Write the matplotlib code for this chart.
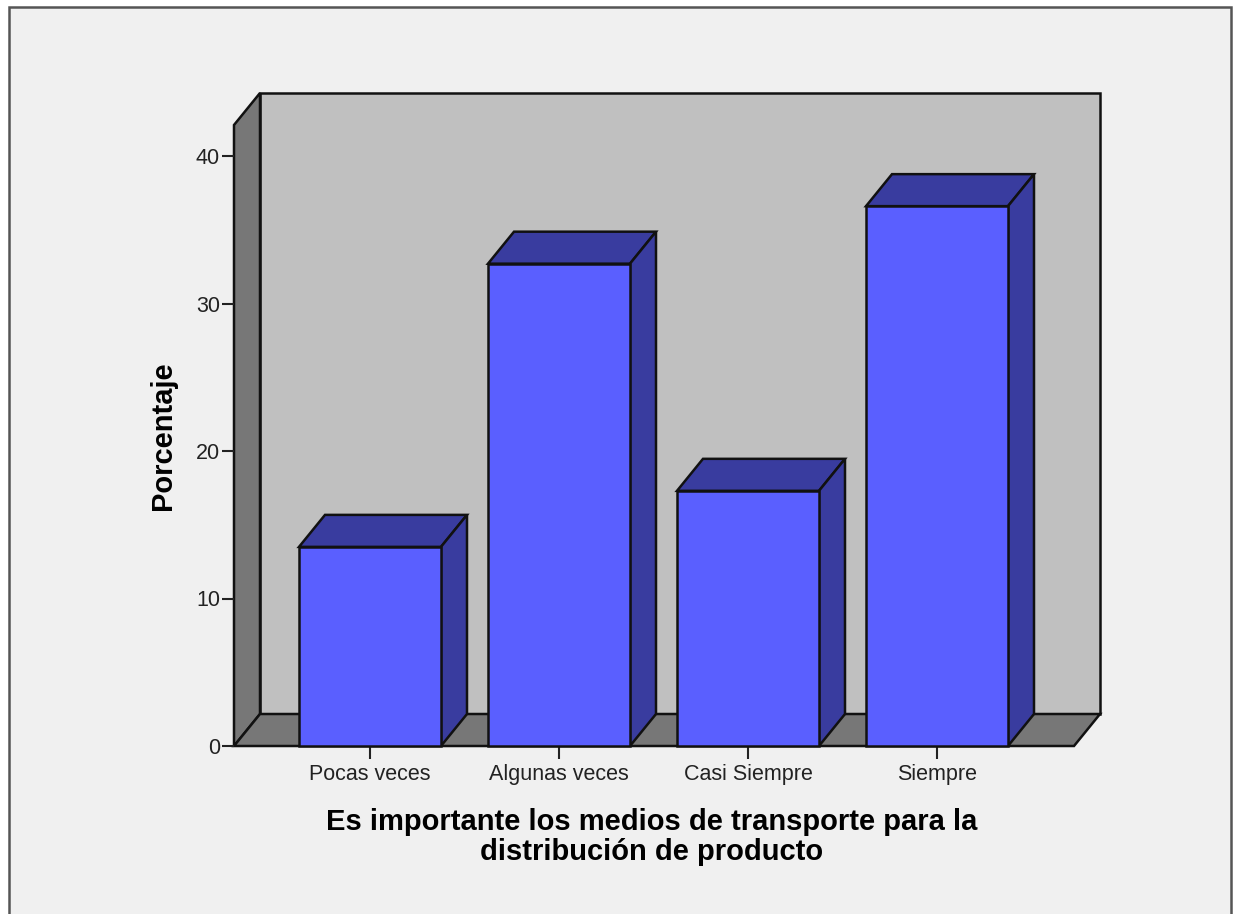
import matplotlib
matplotlib.use("Agg")
import matplotlib.pyplot as plt
from matplotlib.patches import Polygon, Rectangle

categories = ["Pocas veces", "Algunas veces", "Casi Siempre", "Siempre"]
values = [13.5, 32.7, 17.3, 36.6]
yticks = [0, 10, 20, 30, 40]
xlabel = "Es importante los medios de transporte para la\ndistribución de producto"
ylabel = "Porcentaje"

W, H = 1235, 914
px_x = 189.0    # pixels per category
px_y = 14.75    # pixels per percent
depth_x = 26 / px_x
depth_y = 32 / px_y
bar_w = 142 / px_x
xlim = ((234 - 370) / px_x, (1074 - 370) / px_x)
ylim = (0, (746 - 125) / px_y)

face = "#5a5fff"
shade = "#393c9f"
wall = "#c0c0c0"
side = "#777777"

fig = plt.figure(figsize=(W / 100, H / 100), dpi=100, facecolor="white")
plt.rcParams["font.family"] = ["Liberation Sans", "DejaVu Sans"]

# outer frame, open at the bottom edge of the image
fig.add_artist(Rectangle((8.5 / W, -0.01), (1231 - 9) / W, (907.5 + 9) / H, transform=fig.transFigure,
                         fc="#f0f0f0", ec="#555555", lw=1.8, zorder=-1))

ax = fig.add_axes([234 / W, (H - 746) / H, (1074 - 234) / W, (746 - 125) / H])
ax.set_xlim(xlim)
ax.set_ylim(ylim)
ax.patch.set_visible(False)
for s in ax.spines.values():
    s.set_visible(False)


def poly(pts, color, z=2):
    ax.add_patch(Polygon(pts, closed=True, fc=color, ec="#111111", lw=1.8, zorder=z, clip_on=False))


x0, x1 = xlim
top = ylim[1]
# back wall, left wall, floor
poly([(x0 + depth_x, depth_y), (x1 + depth_x, depth_y), (x1 + depth_x, top + depth_y), (x0 + depth_x, top + depth_y)], wall, 1)
poly([(x0, 0), (x0 + depth_x, depth_y), (x0 + depth_x, top + depth_y), (x0, top)], side, 1)
poly([(x0, 0), (x1, 0), (x1 + depth_x, depth_y), (x0 + depth_x, depth_y)], side, 1)

for i, v in enumerate(values):
    l, r = i - bar_w / 2, i + bar_w / 2
    poly([(l, v), (r, v), (r + depth_x, v + depth_y), (l + depth_x, v + depth_y)], shade, 3)
    poly([(r, 0), (r + depth_x, depth_y), (r + depth_x, v + depth_y), (r, v)], shade, 3)
    poly([(l, 0), (r, 0), (r, v), (l, v)], face, 3)

ax.set_xticks(range(len(categories)))
ax.set_xticklabels(categories)
ax.set_yticks(yticks)
ax.tick_params(axis="both", length=9, width=1.5, labelsize=15.5, colors="#222222")
ax.tick_params(axis="x", pad=4)
ax.tick_params(axis="y", pad=1)

fig.text(652 / W, 1 - 837 / H, xlabel, ha="center", va="center", fontsize=21, fontweight="bold", linespacing=1.08)
fig.text(163 / W, 1 - 436 / H, ylabel, ha="center", va="center", rotation=90, fontsize=21, fontweight="bold")

fig.savefig("out.png", dpi=100, facecolor=fig.get_facecolor())
